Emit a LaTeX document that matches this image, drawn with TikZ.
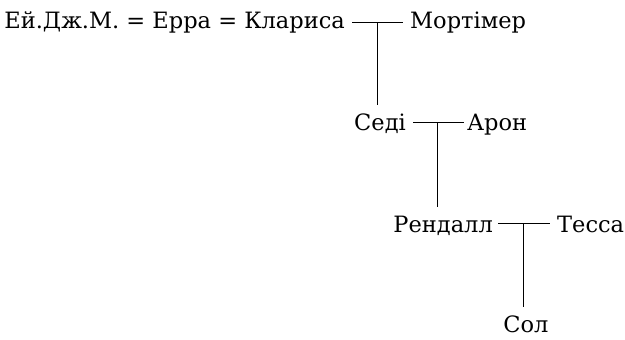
\documentclass[tikz,border=0pt]{standalone}
\usepackage{fontspec}
\setmainfont{DejaVu Serif}
\usepackage{tikz}

\begin{document}
\begin{tikzpicture}[x=1pt,y=-1pt]
	\tikzstyle{person} = [inner sep=0pt, font=\fontsize{22.5}{27}\selectfont]
	\tikzstyle{tie} = [line width=0.9pt]
	\useasboundingbox (0,0) rectangle (625,340);
	%Creating Nodes
	\node [person, anchor=base east] at (345,28) (klarysa) {Ей.Дж.М. = Ерра = Клариса};
	\node [person, anchor=base west] at (410,28) (mortimer) {Мортімер};
	\node [person, anchor=base east] at (406,130) (sedi) {Седі};
	\node [person, anchor=base west] at (467,130) (aron) {Арон};
	\node [person, anchor=base east] at (493,232) (rendall) {Рендалл};
	\node [person, anchor=base west] at (557,232) (tessa) {Тесса};
	\node [person, anchor=base] at (526,332) (sol) {Сол};
	\coordinate (m1) at (377,22);
	\coordinate (m2) at (437,122);
	\coordinate (m3) at (523,223);
	%Conecting Nodes
	\begin{scope}[tie]
	\draw ([xshift=7pt]klarysa.east |- m1) -- ([xshift=-7pt]mortimer.west |- m1);
	\draw (m1) -- ([yshift=8pt]m1 |- sedi.north);
	\draw ([xshift=7pt]sedi.east |- m2) -- ([xshift=-3pt]aron.west |- m2);
	\draw (m2) -- ([yshift=8pt]m2 |- rendall.north);
	\draw ([xshift=5pt]rendall.east |- m3) -- ([xshift=-7pt]tessa.west |- m3);
	\draw (m3) -- ([yshift=8pt]m3 |- sol.north);
	\end{scope}
\end{tikzpicture}
\end{document}
